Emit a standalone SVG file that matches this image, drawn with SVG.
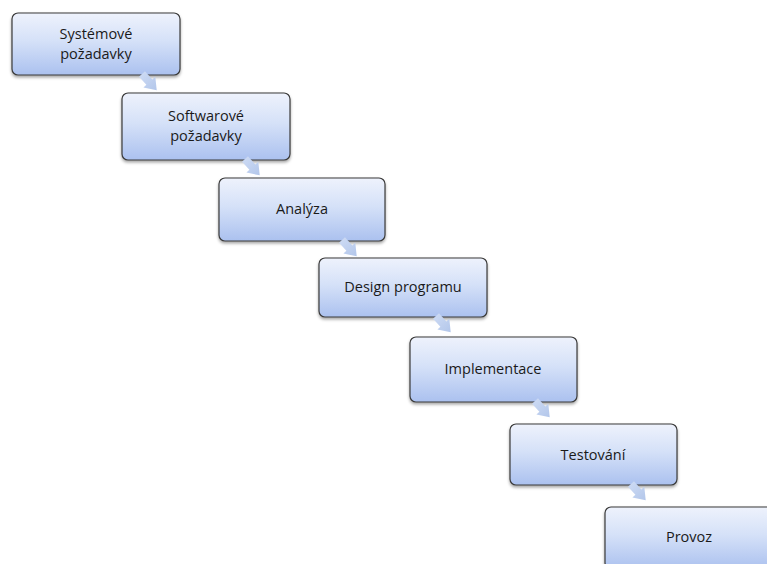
<svg xmlns="http://www.w3.org/2000/svg" width="767" height="564" viewBox="0 0 767 564">
  <defs>
    <linearGradient id="boxFill" x1="0" y1="0" x2="0" y2="1">
      <stop offset="0" stop-color="#eef2fc"/>
      <stop offset="0.45" stop-color="#d5e1f8"/>
      <stop offset="1" stop-color="#abc1ef"/>
    </linearGradient>
    <linearGradient id="arrowFill" x1="0" y1="0" x2="1" y2="0">
      <stop offset="0" stop-color="#cbd9f3"/>
      <stop offset="1" stop-color="#b2c6ea"/>
    </linearGradient>
    <filter id="shadow" x="-10%" y="-10%" width="120%" height="140%">
      <feDropShadow dx="0" dy="2" stdDeviation="1.6" flood-color="#000" flood-opacity="0.35"/>
    </filter>
    <!-- short block arrow pointing along +x -->
    <path id="stepArrow" d="M0,-4 L11,-4 L11,-8 L22,0 L11,8 L11,4 L0,4 Z"/>
  </defs>
  <style>
    .box { fill: url(#boxFill); stroke: #3a3a3a; stroke-width: 1.2; filter: url(#shadow); }
    .label { font-family: "Open Sans", "Liberation Sans", sans-serif; font-size: 14.5px; fill: #1a1a1a; text-anchor: middle; }
    .arrow { fill: url(#arrowFill); }
  </style>
  <rect width="767" height="564" fill="#ffffff"/>

  <g id="node-systemove">
    <rect class="box" x="12" y="13" width="168" height="62" rx="6"/>
    <text class="label" x="96" y="39">Systémové</text>
    <text class="label" x="96" y="59">požadavky</text>
  </g>
  <g id="node-softwarove">
    <rect class="box" x="122" y="93" width="168" height="67" rx="6"/>
    <text class="label" x="206" y="121">Softwarové</text>
    <text class="label" x="206" y="141">požadavky</text>
  </g>
  <g id="node-analyza">
    <rect class="box" x="219" y="178" width="166" height="63" rx="6"/>
    <text class="label" x="302" y="214">Analýza</text>
  </g>
  <g id="node-design">
    <rect class="box" x="319" y="258" width="168" height="59" rx="6"/>
    <text class="label" x="403" y="292">Design programu</text>
  </g>
  <g id="node-implementace">
    <rect class="box" x="410" y="337" width="167" height="65" rx="6"/>
    <text class="label" x="493" y="374">Implementace</text>
  </g>
  <g id="node-testovani">
    <rect class="box" x="510" y="424" width="167" height="61" rx="6"/>
    <text class="label" x="593" y="460">Testování</text>
  </g>
  <g id="node-provoz">
    <rect class="box" x="605" y="507" width="168" height="62" rx="6"/>
    <text class="label" x="689" y="542">Provoz</text>
  </g>

  <g id="connectors">
    <use href="#stepArrow" class="arrow" transform="translate(142,74) rotate(48)"/>
    <use href="#stepArrow" class="arrow" transform="translate(245,159) rotate(48)"/>
    <use href="#stepArrow" class="arrow" transform="translate(342,240) rotate(48)"/>
    <use href="#stepArrow" class="arrow" transform="translate(436,316) rotate(48)"/>
    <use href="#stepArrow" class="arrow" transform="translate(535,401) rotate(48)"/>
    <use href="#stepArrow" class="arrow" transform="translate(631,484) rotate(48)"/>
  </g>
</svg>
